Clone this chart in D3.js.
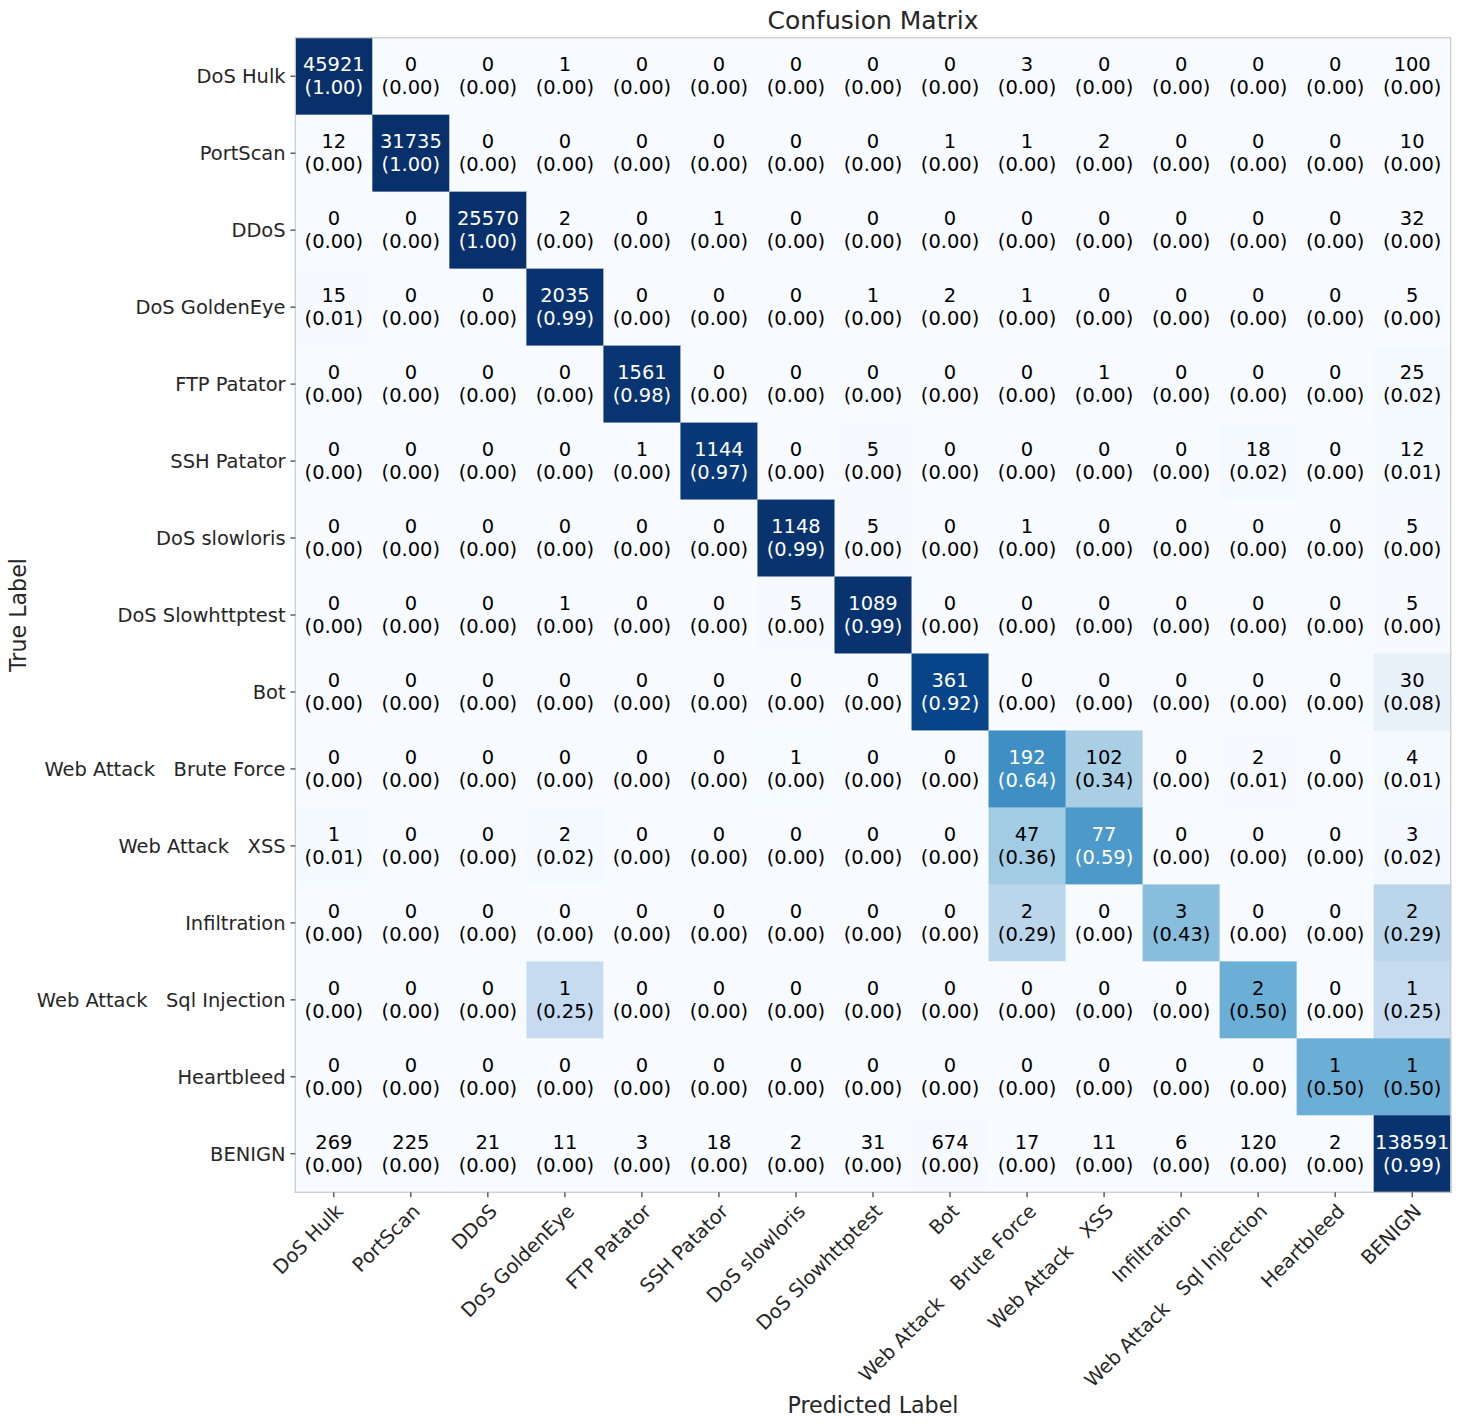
<!DOCTYPE html>
<html>
<head>
<meta charset="utf-8">
<script src="https://cdn.jsdelivr.net/npm/d3@7"></script>
<style>
  html, body { margin: 0; padding: 0; background: #fff; }
  svg text { font-family: "DejaVu Sans", sans-serif; white-space: pre; }
</style>
</head>
<body>
<svg id="chart" width="1459" height="1427"></svg>
<script>
// ---- data ----
const categories = [
  "DoS Hulk", "PortScan", "DDoS", "DoS GoldenEye", "FTP Patator", "SSH Patator",
  "DoS slowloris", "DoS Slowhttptest", "Bot", "Web Attack   Brute Force",
  "Web Attack   XSS", "Infiltration", "Web Attack   Sql Injection", "Heartbleed", "BENIGN"
];
// rows = true label, columns = predicted label
const counts = [
  [45921, 0, 0, 1, 0, 0, 0, 0, 0, 3, 0, 0, 0, 0, 100],
  [12, 31735, 0, 0, 0, 0, 0, 0, 1, 1, 2, 0, 0, 0, 10],
  [0, 0, 25570, 2, 0, 1, 0, 0, 0, 0, 0, 0, 0, 0, 32],
  [15, 0, 0, 2035, 0, 0, 0, 1, 2, 1, 0, 0, 0, 0, 5],
  [0, 0, 0, 0, 1561, 0, 0, 0, 0, 0, 1, 0, 0, 0, 25],
  [0, 0, 0, 0, 1, 1144, 0, 5, 0, 0, 0, 0, 18, 0, 12],
  [0, 0, 0, 0, 0, 0, 1148, 5, 0, 1, 0, 0, 0, 0, 5],
  [0, 0, 0, 1, 0, 0, 5, 1089, 0, 0, 0, 0, 0, 0, 5],
  [0, 0, 0, 0, 0, 0, 0, 0, 361, 0, 0, 0, 0, 0, 30],
  [0, 0, 0, 0, 0, 0, 1, 0, 0, 192, 102, 0, 2, 0, 4],
  [1, 0, 0, 2, 0, 0, 0, 0, 0, 47, 77, 0, 0, 0, 3],
  [0, 0, 0, 0, 0, 0, 0, 0, 0, 2, 0, 3, 0, 0, 2],
  [0, 0, 0, 1, 0, 0, 0, 0, 0, 0, 0, 0, 2, 0, 1],
  [0, 0, 0, 0, 0, 0, 0, 0, 0, 0, 0, 0, 0, 1, 1],
  [269, 225, 21, 11, 3, 18, 2, 31, 674, 17, 11, 6, 120, 2, 138591]
];
const titleText = "Confusion Matrix";
const xLabelText = "Predicted Label";
const yLabelText = "True Label";

// ---- layout ----
const svg = d3.select("#chart");
const L = 295.3, R = 1450.7, T = 37.7, B = 1192.3;
const textColor = "#262626";

const x = d3.scaleBand().domain(d3.range(categories.length)).range([L, R]);
const y = d3.scaleBand().domain(d3.range(categories.length)).range([T, B]);

const bluesStops = ["#f7fbff","#deebf7","#c6dbef","#9ecae1","#6baed6","#4292c6","#2171b5","#08519c","#08306b"];
const color = d3.scaleLinear()
  .domain(bluesStops.map((_, i) => i / (bluesStops.length - 1)))
  .range(bluesStops)
  .interpolate(d3.interpolateRgb)
  .clamp(true);

const cells = [];
counts.forEach((row, i) => {
  const sum = d3.sum(row);
  row.forEach((v, j) => cells.push({ i, j, v, p: sum ? v / sum : 0 }));
});

const g = svg.append("g");
g.selectAll("rect.cell").data(cells).join("rect")
  .attr("class", "cell")
  .attr("x", d => x(d.j))
  .attr("y", d => y(d.i))
  .attr("width", x.bandwidth() + 0.5)
  .attr("height", y.bandwidth() + 0.5)
  .attr("fill", d => color(d.p));

const fs = 19.44;
const labels = g.selectAll("g.lbl").data(cells).join("g")
  .attr("class", "lbl")
  .attr("transform", d => `translate(${x(d.j) + x.bandwidth() / 2},${y(d.i) + y.bandwidth() / 2})`);
labels.append("text")
  .attr("text-anchor", "middle")
  .attr("y", -4.8)
  .attr("font-size", fs)
  .attr("fill", d => d.p > 0.5 ? "#ffffff" : "#000000")
  .text(d => d.v);
labels.append("text")
  .attr("text-anchor", "middle")
  .attr("y", 18.3)
  .attr("font-size", fs)
  .attr("fill", d => d.p > 0.5 ? "#ffffff" : "#000000")
  .text(d => `(${d.p.toFixed(2)})`);

// frame
svg.append("rect")
  .attr("x", L).attr("y", T).attr("width", R - L).attr("height", B - T)
  .attr("fill", "none").attr("stroke", "#cccccc").attr("stroke-width", 1.25);

// axes
const tickLen = 4.86, pad = 4.86;
const xAxis = d3.axisBottom(x).tickSize(tickLen).tickPadding(pad).tickFormat(i => categories[i]);
const xg = svg.append("g").attr("transform", `translate(0,${B})`).call(xAxis);
xg.select(".domain").remove();
xg.selectAll(".tick line").attr("stroke", textColor).attr("stroke-width", 1.1);
xg.selectAll(".tick text")
  .attr("font-size", fs)
  .attr("fill", textColor)
  .attr("text-anchor", "end")
  .attr("x", 0).attr("y", 0).attr("dy", "0.76em")
  .attr("transform", `translate(0,${tickLen + pad}) rotate(-45)`);

const yAxis = d3.axisLeft(y).tickSize(tickLen).tickPadding(pad).tickFormat(i => categories[i]);
const yg = svg.append("g").attr("transform", `translate(${L},0)`).call(yAxis);
yg.select(".domain").remove();
yg.selectAll(".tick line").attr("stroke", textColor).attr("stroke-width", 1.1);
yg.selectAll(".tick text")
  .attr("font-size", fs)
  .attr("fill", textColor)
  .attr("dy", "0.35em");

svg.selectAll(".tick text").style("font-family", "'DejaVu Sans', sans-serif");

// title and axis labels
svg.append("text")
  .attr("x", (L + R) / 2).attr("y", 29)
  .attr("text-anchor", "middle")
  .attr("font-size", 25)
  .attr("fill", textColor)
  .text(titleText);

svg.append("text")
  .attr("x", (L + R) / 2).attr("y", 1413)
  .attr("text-anchor", "middle")
  .attr("font-size", 22.2)
  .attr("fill", textColor)
  .text(xLabelText);

svg.append("text")
  .attr("transform", `translate(26,${(T + B) / 2}) rotate(-90)`)
  .attr("text-anchor", "middle")
  .attr("font-size", 22.2)
  .attr("fill", textColor)
  .text(yLabelText);
</script>
</body>
</html>
